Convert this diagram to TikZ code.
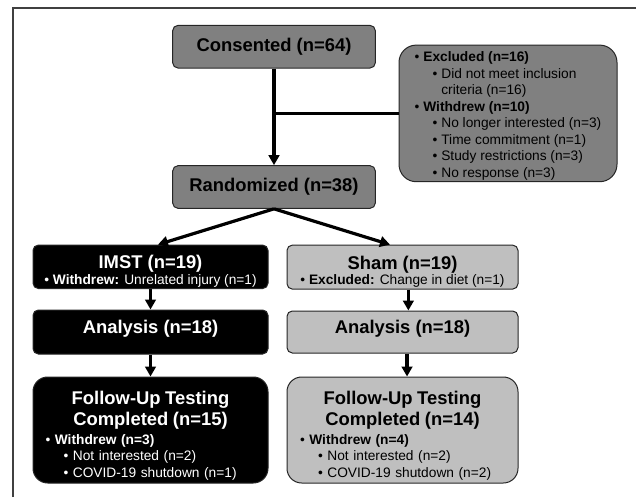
\documentclass[tikz,border=0pt]{standalone}
\usepackage{fontspec}
\setmainfont{Liberation Sans}
\usetikzlibrary{arrows.meta}

\newcommand{\hdr}{\fontsize{13.8pt}{16pt}\selectfont\bfseries}
\newcommand{\sm}{\fontsize{10.3pt}{12.4pt}\selectfont}
\newcommand{\itmA}[1]{\textbullet\ #1}
\newcommand{\itmB}[1]{\hspace*{13.5pt}\textbullet\ #1}

\tikzset{
  box/.style={draw=black!85, line width=0.75pt, rounded corners=4pt, inner sep=0pt, align=center, font=\sm},
  midbox/.style={box, fill=black!50},
  darkbox/.style={box, fill=black, text=white},
  litebox/.style={box, fill=black!25},
  arr/.style={line width=2.4pt, -{Triangle[width=8pt,length=7.5pt]}},
}

\begin{document}
\begin{tikzpicture}[x=0.75pt, y=-0.75pt]
\useasboundingbox (0,0) rectangle (636,497);
\draw[line width=1.5pt, black!75] (13.3,497) -- (13.3,8) -- (636,8);

% top part
\node[midbox, minimum width=152pt, minimum height=32pt] (cons) at (274,46.7) {\hdr Consented (n=64)};
\node[midbox, minimum width=152pt, minimum height=32pt] (rand) at (274,187) {\hdr Randomized (n=38)};
\node[midbox, rounded corners=13pt, minimum width=163.5pt, minimum height=102.5pt, align=left] (excl) at (508,113.4) {%
  \rule{0pt}{11.5pt}\itmA{\textbf{Excluded (n=16)}}\\
  \itmB{Did not meet inclusion}\\
  \hspace*{13.5pt}\phantom{\textbullet\ }criteria (n=16)\\
  \itmA{\textbf{Withdrew (n=10)}}\\
  \itmB{No longer interested (n=3)}\\
  \itmB{Time commitment (n=1)}\\
  \itmB{Study restrictions (n=3)}\\
  \itmB{No response (n=3)}};

% the two arms
\node[darkbox, minimum width=176.25pt, minimum height=32.6pt] (imst) at (150.5,266.8) {{\hdr\rule{0pt}{17pt}IMST (n=19)}\\[-0.7pt]\itmA{\textbf{Withdrew:} Unrelated injury (n=1)}};
\node[litebox, minimum width=173.25pt, minimum height=33pt] (sham) at (402.5,267.1) {{\hdr\rule{0pt}{17pt}Sham (n=19)}\\[-0.7pt]\itmA{\textbf{Excluded:} Change in diet (n=1)}};

\node[darkbox, minimum width=176.25pt, minimum height=33pt, text depth=8.5pt] (anaL) at (150.5,332) {\hdr Analysis (n=18)};
\node[litebox, minimum width=173.25pt, minimum height=31.5pt, text depth=8.5pt] (anaR) at (402.5,332) {\hdr Analysis (n=18)};

\node[darkbox, rounded corners=11pt, minimum width=176.25pt, minimum height=79.5pt, text width=157.5pt, align=left] (folL) at (150.5,430) {%
  {\centering\hdr\rule{0pt}{18.5pt}Follow-Up Testing\\Completed (n=15)\par}\vskip1.5pt
  \itmA{\textbf{Withdrew (n=3)}}\\
  \itmB{Not interested (n=2)}\\
  \itmB{COVID-19 shutdown (n=1)}};
\node[litebox, rounded corners=11pt, minimum width=173.25pt, minimum height=79.5pt, text width=153.75pt, align=left] (folR) at (402.5,430) {%
  {\centering\hdr\rule{0pt}{18.5pt}Follow-Up Testing\\Completed (n=14)\par}\vskip1.5pt
  \itmA{\textbf{Withdrew (n=4)}}\\
  \itmB{Not interested (n=2)}\\
  \itmB{COVID-19 shutdown (n=2)}};

% connectors
\draw[arr] (cons) -- (rand);
\draw[line width=2.4pt] (cons.south |- excl.west) -- (excl.west);
\draw[arr] (rand.south) -- ([xshift=5.6pt]imst.north);
\draw[arr] (rand.south) -- ([xshift=-9.4pt]sham.north);
\draw[arr] (imst) -- (anaL);
\draw[arr] ([xshift=4.4pt]sham.south) -- ([xshift=4.4pt]anaR.north);
\draw[arr] (anaL) -- (folL);
\draw[arr] ([xshift=3.4pt]anaR.south) -- ([xshift=3.4pt]folR.north);
\end{tikzpicture}
\end{document}
